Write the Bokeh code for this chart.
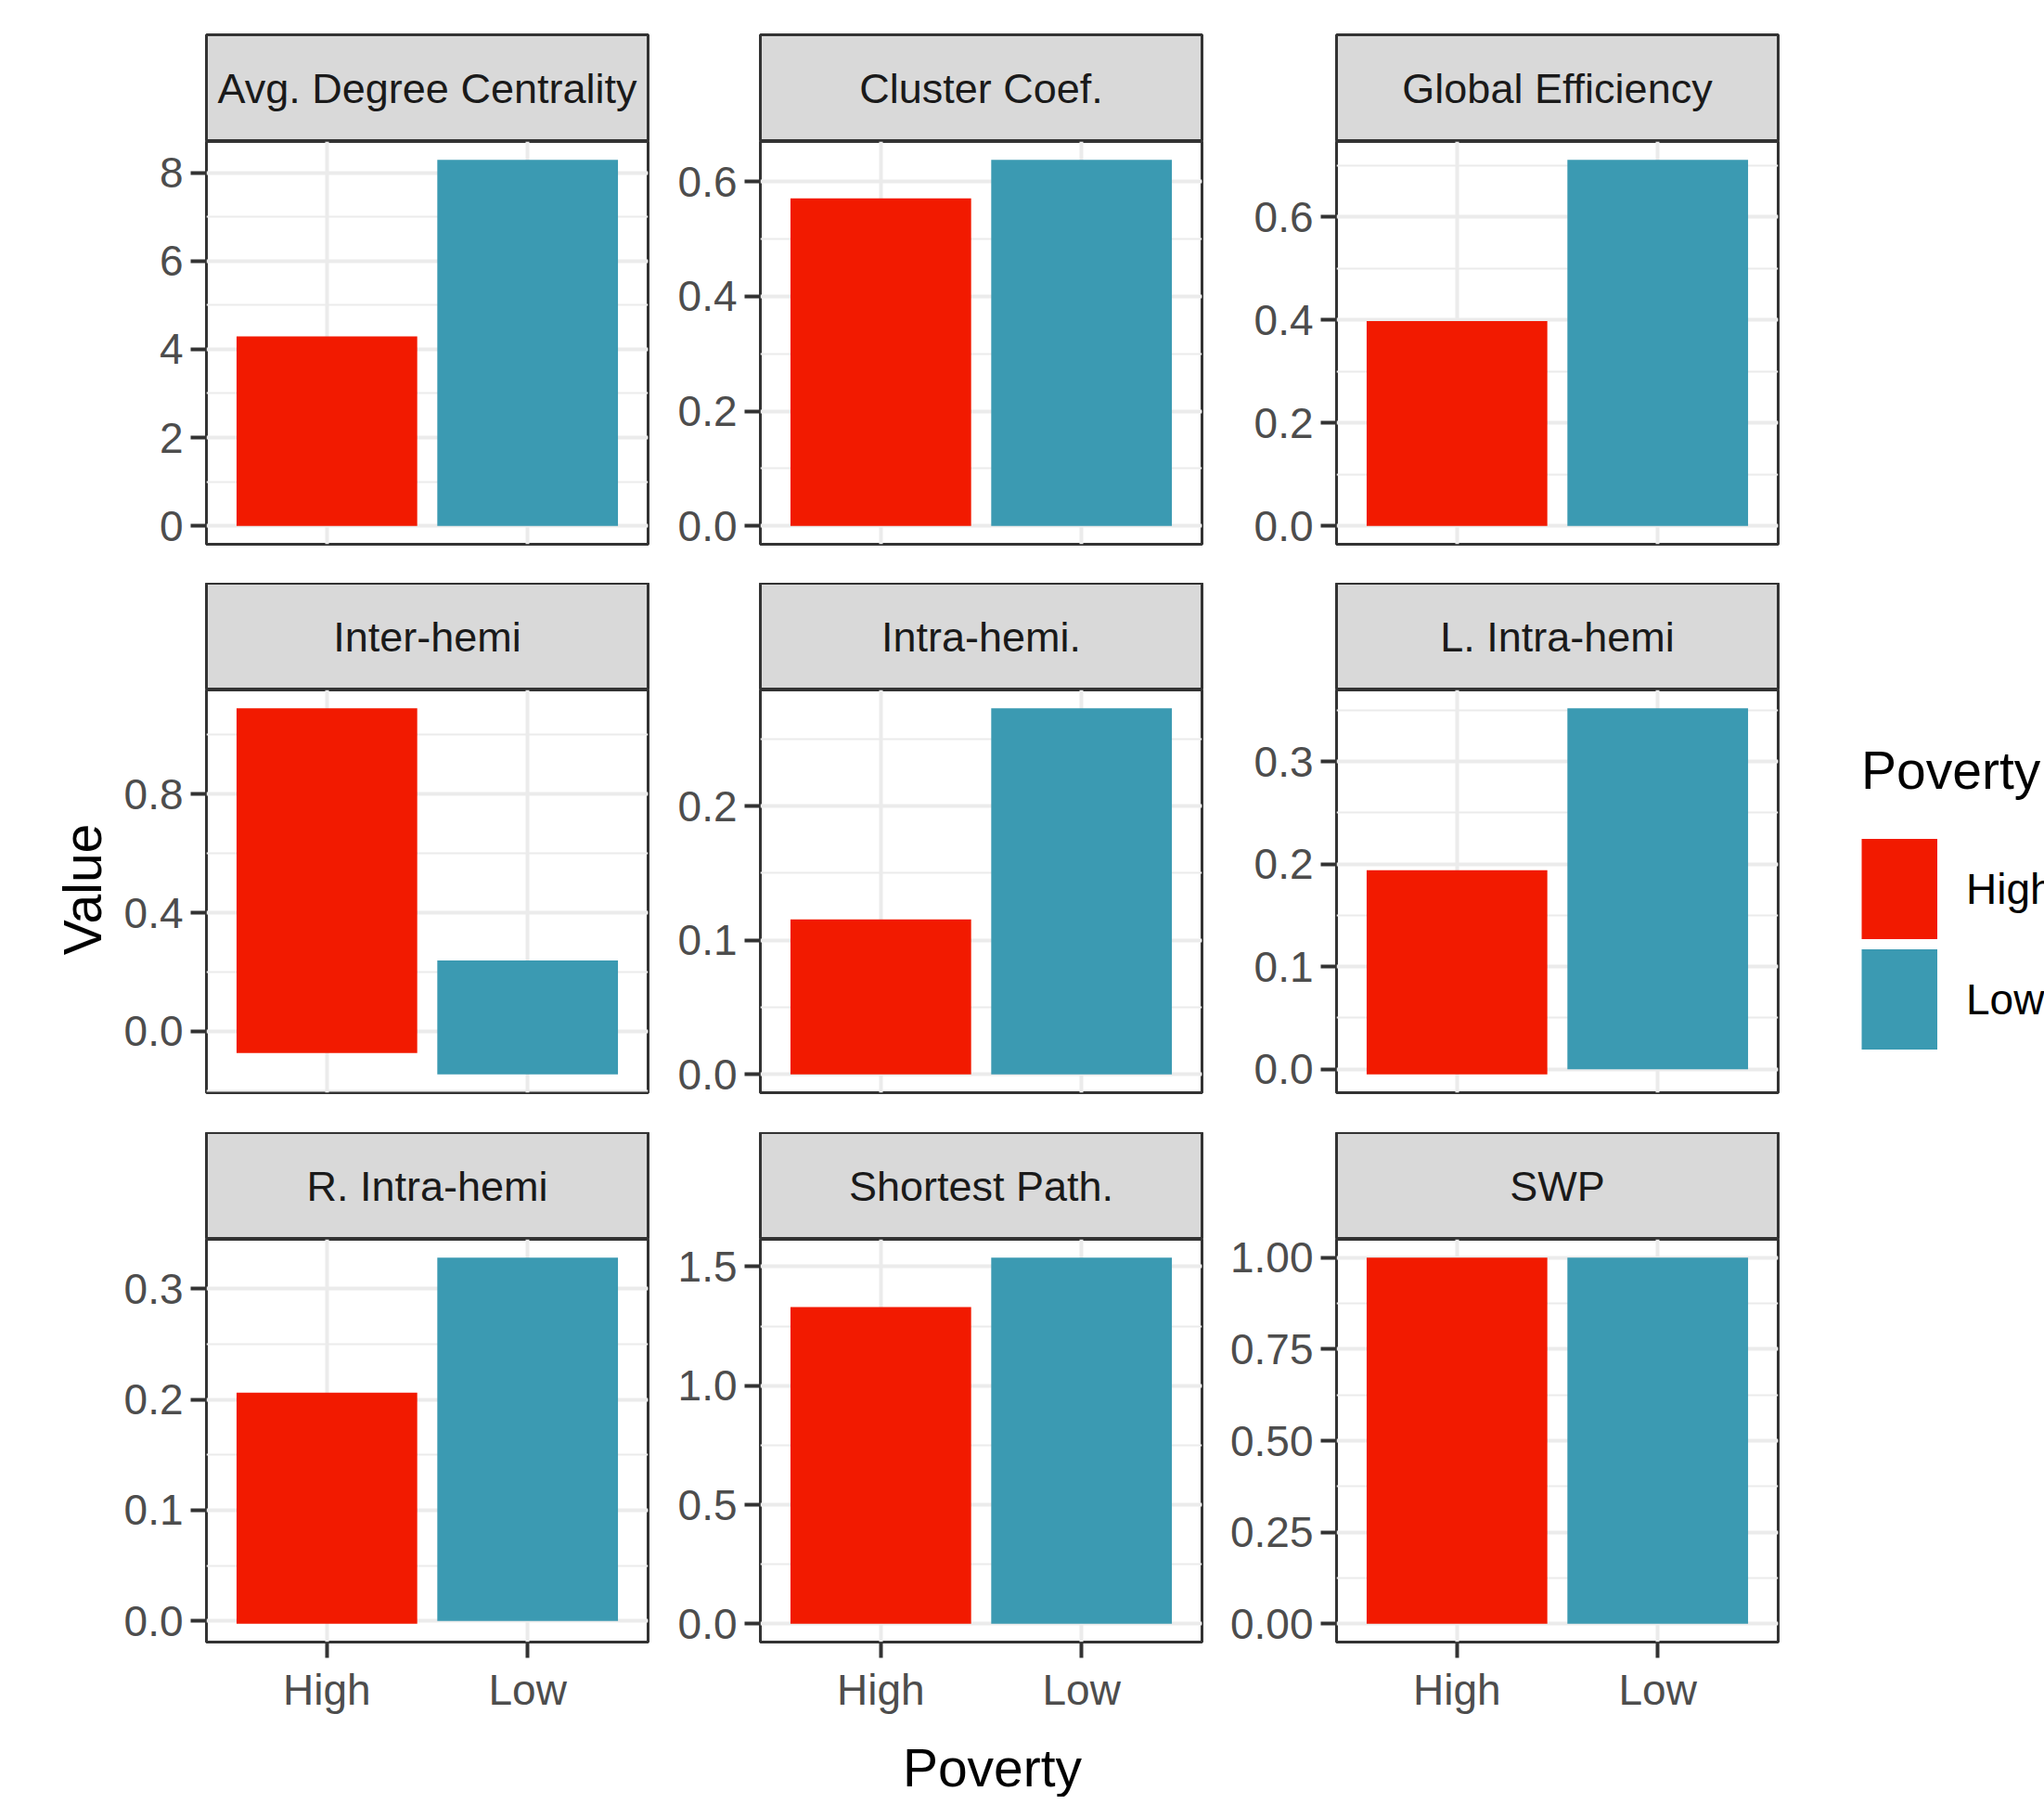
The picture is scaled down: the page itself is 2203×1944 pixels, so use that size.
from math import pi
from bokeh.plotting import figure
from bokeh.layouts import column, row
from bokeh.models import (Range1d, FactorRange, SingleIntervalTicker, NumeralTickFormatter,
                          Label, Legend, LegendItem, ColumnDataSource)
from bokeh.embed import file_html
from bokeh.resources import INLINE

# ---------------- data ----------------
panels = ["Avg. Degree Centrality", "Cluster Coef.", "Global Efficiency",
          "Inter-hemi", "Intra-hemi.", "L. Intra-hemi",
          "R. Intra-hemi", "Shortest Path.", "SWP"]
groups = ["High", "Low"]
# positive (stacked) totals and negative (stacked) totals per group
high_top = [4.29, 0.571, 0.398, 1.090, 0.1155, 0.194, 0.206, 1.330, 1.00]
low_top = [8.29, 0.638, 0.711, 0.239, 0.273, 0.352, 0.328, 1.538, 1.00]
high_bottom = [0.0, 0.0, 0.0, -0.073, 0.0, -0.005, -0.0025, 0.0, 0.0]
low_bottom = [0.0, 0.0, 0.0, -0.145, 0.0, 0.0, 0.0, 0.0, 0.0]
tick_step = [2, 0.2, 0.2, 0.4, 0.1, 0.1, 0.1, 0.5, 0.25]
tick_fmt = ["0", "0.0", "0.0", "0.0", "0.0", "0.0", "0.0", "0.0", "0.00"]

# ---------------- style ----------------
FONT = "Liberation Sans"
RED, BLUE = "#F21A00", "#3B9AB2"
BORDER = "#333333"
GRID = "#EBEBEB"
STRIP = "#D9D9D9"
TICK_SIZE = "46px"
STRIP_SIZE = "45px"
TITLE_SIZE = "57px"

FRAME_W = 476
FRAME_H = 434
col_left = [102, 99, 123]
col_right = [22, 22, 44]
strip_h = [152, 115, 115]
strip_top = [37, 0, 0]
panel_bottom = [42, 43, 93]
LEFT_W = 120
LEG_W = 243


def make_strip(i, c, r):
    w = col_left[c] + FRAME_W + col_right[c]
    s = figure(width=w, height=strip_h[r], x_range=Range1d(0, 1), y_range=Range1d(0, 1),
               x_axis_location=None, y_axis_location=None, toolbar_location=None,
               output_backend="svg", min_border_left=col_left[c], min_border_right=col_right[c],
               min_border_top=strip_top[r], min_border_bottom=0,
               background_fill_color=STRIP, border_fill_color="white",
               outline_line_color=BORDER, outline_line_width=3)
    s.grid.visible = False
    s.add_layout(Label(x=0.5, y=0.5, text=panels[i], text_align="center",
                       text_baseline="middle", text_font=FONT, text_font_size=STRIP_SIZE,
                       text_color="#1A1A1A"))
    return s


def make_panel(i, c, r):
    w = col_left[c] + FRAME_W + col_right[c]
    h = FRAME_H + panel_bottom[r]
    lo = min(0.0, high_bottom[i], low_bottom[i])
    hi = max(high_top[i], low_top[i], 0.0)
    pad = 0.05 * (hi - lo)
    p = figure(width=w, height=h,
               x_range=FactorRange(factors=groups, range_padding=0.1,
                                   range_padding_units="absolute"),
               y_range=Range1d(lo - pad, hi + pad),
               toolbar_location=None, output_backend="svg",
               min_border_left=col_left[c], min_border_right=col_right[c],
               min_border_top=0, min_border_bottom=panel_bottom[r],
               background_fill_color="white", border_fill_color="white",
               outline_line_color=BORDER, outline_line_width=3)
    src = ColumnDataSource(dict(x=groups, top=[high_top[i], low_top[i]],
                                bottom=[high_bottom[i], low_bottom[i]], color=[RED, BLUE]))
    p.vbar(x="x", top="top", bottom="bottom", width=0.9, source=src,
           fill_color="color", line_color=None)

    ticker = SingleIntervalTicker(interval=tick_step[i], num_minor_ticks=2)
    p.yaxis.ticker = ticker
    p.ygrid.ticker = ticker
    p.yaxis.formatter = NumeralTickFormatter(format=tick_fmt[i])
    p.ygrid.grid_line_color = GRID
    p.ygrid.grid_line_width = 4
    p.ygrid.minor_grid_line_color = GRID
    p.ygrid.minor_grid_line_width = 2
    p.xgrid.grid_line_color = GRID
    p.xgrid.grid_line_width = 4

    for ax in (p.xaxis[0], p.yaxis[0]):
        ax.axis_line_color = None
        ax.major_tick_line_color = BORDER
        ax.major_tick_line_width = 4
        ax.major_tick_out = 17
        ax.major_tick_in = 0
        ax.minor_tick_line_color = None
        ax.major_label_text_font = FONT
        ax.major_label_text_font_size = TICK_SIZE
        ax.major_label_text_color = "#4D4D4D"
    p.yaxis.major_label_standoff = 8
    p.xaxis.major_label_standoff = 8
    if r < 2:
        p.xaxis.visible = False
    return p


cols = []
for c in range(3):
    kids = []
    for r in range(3):
        i = r * 3 + c
        kids.append(make_strip(i, c, r))
        kids.append(make_panel(i, c, r))
    cols.append(column(*kids, spacing=0))

total_h = sum(strip_h) + 3 * FRAME_H + sum(panel_bottom)

# y-axis title
tf = figure(width=LEFT_W, height=total_h, x_range=Range1d(0, LEFT_W), y_range=Range1d(0, total_h),
            x_axis_location=None, y_axis_location=None, toolbar_location=None,
            output_backend="svg", min_border=0, outline_line_color=None)
tf.grid.visible = False
tf.add_layout(Label(x=88, y=total_h - 958, text="Value", angle=pi / 2, text_align="center",
                    text_baseline="middle", text_font=FONT, text_font_size=TITLE_SIZE,
                    text_color="black"))

# legend (keys drawn as thick butt-capped line swatches filling the key box)
lf = figure(width=LEG_W, height=total_h, x_range=Range1d(0, 1), y_range=Range1d(0, 1),
            x_axis_location=None, y_axis_location=None, toolbar_location=None,
            output_backend="svg", min_border=0, outline_line_color=None)
lf.grid.visible = False
r_hi = lf.line(x=[0.5], y=[0.5], line_color=RED, line_width=108, line_cap="butt")
r_lo = lf.line(x=[0.5], y=[0.5], line_color=BLUE, line_width=108, line_cap="butt")
leg = Legend(items=[LegendItem(label=groups[0], renderers=[r_hi]),
                    LegendItem(label=groups[1], renderers=[r_lo])],
             location=(46, total_h - 1136), title="Poverty",
             title_text_font=FONT, title_text_font_size=TITLE_SIZE, title_text_color="black",
             title_text_font_style="normal", title_standoff=35,
             label_text_font=FONT, label_text_font_size=TICK_SIZE, label_text_color="black",
             label_standoff=31, glyph_width=82, glyph_height=119, spacing=0,
             padding=0, margin=0, border_line_color=None, background_fill_alpha=0)
lf.add_layout(leg)

# x-axis title
xw = LEFT_W + sum(col_left) + 3 * FRAME_W + sum(col_right) + LEG_W
xf = figure(width=xw, height=74, x_range=Range1d(0, xw), y_range=Range1d(0, 74),
            x_axis_location=None, y_axis_location=None, toolbar_location=None,
            output_backend="svg", min_border=0, outline_line_color=None)
xf.grid.visible = False
xf.add_layout(Label(x=1069, y=32, text="Poverty", text_align="center",
                    text_baseline="middle", text_font=FONT, text_font_size=TITLE_SIZE,
                    text_color="black"))

root = column(row(tf, cols[0], cols[1], cols[2], lf, spacing=0), xf, spacing=0)

open("out.html", "w").write(file_html(root, INLINE))
